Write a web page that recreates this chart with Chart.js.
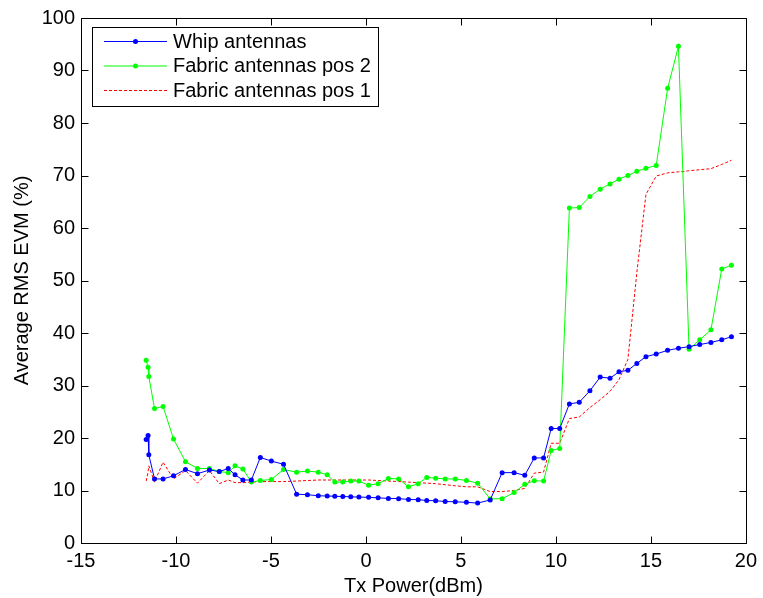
<!DOCTYPE html>
<html>
<head>
<meta charset="utf-8">
<script src="https://cdn.jsdelivr.net/npm/chart.js@4.4.1/dist/chart.umd.min.js"></script>
<style>
  html, body { margin: 0; padding: 0; background: #ffffff; }
  #wrap { width: 763px; height: 598px; }
</style>
</head>
<body>
<div id="wrap"><canvas id="c" width="763" height="598"></canvas></div>
<script>
// ---- data ----
const txPower = [-11.57, -11.47, -11.43, -11.13, -10.68, -10.13, -9.50, -8.87, -8.24, -7.72,
  -7.25, -6.89, -6.48, -6.03, -5.56, -4.98, -4.34, -3.65, -3.08, -2.51,
  -2.04, -1.64, -1.22, -0.80, -0.37, 0.14, 0.64, 1.18, 1.72, 2.24,
  2.75, 3.20, 3.67, 4.17, 4.70, 5.29, 5.88, 6.54, 7.17, 7.80,
  8.36, 8.86, 9.35, 9.75, 10.20, 10.71, 11.23, 11.79, 12.33, 12.85,
  13.32, 13.79, 14.26, 14.74, 15.28, 15.88, 16.45, 17.01, 17.57, 18.16,
  18.73, 19.24];

const whip = [19.7, 20.5, 16.8, 12.2, 12.2, 12.8, 14.0, 13.2, 13.9, 13.6,
  14.2, 13.0, 12.0, 12.0, 16.3, 15.6, 15.0, 9.3, 9.2, 9.0,
  8.95, 8.9, 8.85, 8.8, 8.75, 8.7, 8.6, 8.5, 8.45, 8.3,
  8.25, 8.1, 8.05, 7.9, 7.85, 7.75, 7.6, 8.2, 13.4, 13.4,
  12.9, 16.2, 16.2, 21.8, 21.8, 26.5, 26.8, 29.0, 31.6, 31.4,
  32.6, 32.9, 34.2, 35.5, 36.0, 36.7, 37.1, 37.4, 37.8, 38.2,
  38.7, 39.3];

const fabricPos2 = [34.8, 33.5, 31.7, 25.6, 26.0, 19.8, 15.5, 14.2, 14.2, 13.6,
  13.4, 14.7, 14.1, 11.6, 11.9, 12.1, 14.0, 13.5, 13.7, 13.5,
  13.0, 11.6, 11.6, 11.8, 11.8, 11.0, 11.3, 12.3, 12.2, 10.7,
  11.3, 12.5, 12.35, 12.2, 12.2, 11.9, 11.4, 8.4, 8.45, 9.6,
  11.2, 11.85, 11.8, 17.6, 18.0, 63.8, 63.9, 66.0, 67.4, 68.4,
  69.3, 70.0, 70.8, 71.4, 71.9, 86.6, 94.6, 36.9, 38.7, 40.6,
  52.2, 52.9];

const fabricPos1 = [11.8, 13.5, 14.7, 11.6, 15.4, 12.2, 13.8, 11.4, 13.8, 11.3,
  12.0, 11.5, 11.5, 11.6, 11.7, 11.7, 11.7, 11.8, 11.9, 12.0,
  12.0, 12.0, 12.0, 12.0, 12.0, 12.0, 11.9, 11.8, 11.7, 11.6,
  11.5, 11.4, 11.3, 11.1, 10.9, 10.7, 10.7, 9.8, 9.8, 10.0,
  10.4, 13.3, 13.5, 19.0, 19.0, 23.7, 24.0, 25.8, 27.3, 28.9,
  31.1, 35.0, 51.5, 66.4, 69.9, 70.5, 70.7, 70.9, 71.1, 71.3,
  72.1, 72.9];

const seriesLabels = ['Whip antennas', 'Fabric antennas pos 2', 'Fabric antennas pos 1'];
const xTickValues = [-15, -10, -5, 0, 5, 10, 15, 20];
const yTickValues = [0, 10, 20, 30, 40, 50, 60, 70, 80, 90, 100];
const xTitle = 'Tx Power(dBm)';
const yTitle = 'Average RMS EVM (%)';

// ---- chart ----
const FONT = '"Liberation Sans", Arial, Helvetica, sans-serif';
const toPts = ys => txPower.map((x, i) => ({ x: x, y: ys[i] }));

const whiteBg = {
  id: 'whiteBg',
  beforeDraw(chart) {
    const ctx = chart.ctx;
    ctx.save();
    ctx.fillStyle = '#ffffff';
    ctx.fillRect(0, 0, chart.width, chart.height);
    ctx.restore();
  }
};

const frameTicks = {
  id: 'frameTicks',
  afterDatasetsDraw(chart) {
    const ctx = chart.ctx;
    const a = chart.chartArea;
    const xs = chart.scales.x, ys = chart.scales.y;
    const L = Math.round(a.left) + 0.5, R = Math.round(a.right) + 0.5;
    const T = Math.round(a.top) + 0.5, B = Math.round(a.bottom) + 0.5;
    const tl = 7;
    ctx.save();
    ctx.strokeStyle = '#000000';
    ctx.lineWidth = 1;
    ctx.beginPath();
    ctx.rect(L, T, R - L, B - T);
    xTickValues.forEach(v => {
      const px = Math.round(xs.getPixelForValue(v)) + 0.5;
      ctx.moveTo(px, B); ctx.lineTo(px, B - tl);
      ctx.moveTo(px, T); ctx.lineTo(px, T + tl);
    });
    yTickValues.forEach(v => {
      const py = Math.round(ys.getPixelForValue(v)) + 0.5;
      ctx.moveTo(L, py); ctx.lineTo(L + tl, py);
      ctx.moveTo(R, py); ctx.lineTo(R - tl, py);
    });
    ctx.stroke();
    ctx.restore();
  }
};

const boxLegend = {
  id: 'boxLegend',
  afterDraw(chart) {
    const ctx = chart.ctx;
    const ds = chart.data.datasets;
    ctx.save();
    ctx.font = '20px ' + FONT;
    const textX = 173;
    let maxW = 0;
    ds.forEach(d => { maxW = Math.max(maxW, ctx.measureText(d.label).width); });
    const bx = 92.5, by = 27.5, bw = Math.round(textX + maxW + 8 - bx), bh = 79;
    ctx.fillStyle = '#ffffff';
    ctx.fillRect(bx, by, bw, bh);
    ctx.strokeStyle = '#000000';
    ctx.lineWidth = 1;
    ctx.strokeRect(bx, by, bw, bh);
    const rowY = [41, 65.5, 90];
    ds.forEach((d, i) => {
      const y = rowY[i];
      ctx.strokeStyle = d.borderColor;
      ctx.lineWidth = 1;
      ctx.setLineDash(d.borderDash || []);
      ctx.beginPath();
      ctx.moveTo(104, y + 0.5);
      ctx.lineTo(167, y + 0.5);
      ctx.stroke();
      ctx.setLineDash([]);
      if (d.pointRadius > 0) {
        ctx.fillStyle = d.borderColor;
        ctx.beginPath();
        ctx.arc(135.5, y + 0.5, 2.5, 0, Math.PI * 2);
        ctx.fill();
      }
      ctx.fillStyle = '#000000';
      ctx.textBaseline = 'middle';
      ctx.textAlign = 'left';
      ctx.fillText(d.label, textX, y + 1);
    });
    ctx.restore();
  }
};

new Chart(document.getElementById('c'), {
  type: 'line',
  data: {
    datasets: [
      { label: seriesLabels[0], data: toPts(whip), borderColor: '#0000ff', backgroundColor: '#0000ff',
        borderWidth: 1, pointRadius: 2.5, pointBorderWidth: 0, pointBackgroundColor: '#0000ff', tension: 0 },
      { label: seriesLabels[1], data: toPts(fabricPos2), borderColor: '#00ff00', backgroundColor: '#00ff00',
        borderWidth: 1, pointRadius: 2.5, pointBorderWidth: 0, pointBackgroundColor: '#00ff00', tension: 0 },
      { label: seriesLabels[2], data: toPts(fabricPos1), borderColor: '#ff0000', backgroundColor: '#ff0000',
        borderWidth: 1, borderDash: [3, 2], pointRadius: 0, tension: 0 }
    ]
  },
  options: {
    responsive: false,
    animation: false,
    devicePixelRatio: 1,
    layout: { padding: { top: 14, right: 12, left: 0, bottom: 0 } },
    plugins: { legend: { display: false }, tooltip: { enabled: false } },
    scales: {
      x: {
        type: 'linear', min: -15, max: 20,
        afterBuildTicks: s => { s.ticks = xTickValues.map(v => ({ value: v })); },
        afterFit: s => { s.height = 55; },
        grid: { display: false, drawTicks: false },
        border: { display: false },
        ticks: { color: '#000000', font: { family: FONT, size: 20 }, padding: 6, maxRotation: 0 },
        title: { display: true, text: xTitle, color: '#000000', font: { family: FONT, size: 20 }, padding: { top: 0, bottom: 0 } }
      },
      y: {
        type: 'linear', min: 0, max: 100,
        afterBuildTicks: s => { s.ticks = yTickValues.map(v => ({ value: v })); },
        afterFit: s => { s.width = 81; },
        grid: { display: false, drawTicks: false },
        border: { display: false },
        ticks: { color: '#000000', font: { family: FONT, size: 20 }, padding: 6 },
        title: { display: true, text: yTitle, color: '#000000', font: { family: FONT, size: 20 }, padding: { top: 10, bottom: 0 } }
      }
    }
  },
  plugins: [whiteBg, frameTicks, boxLegend]
});
</script>
</body>
</html>
